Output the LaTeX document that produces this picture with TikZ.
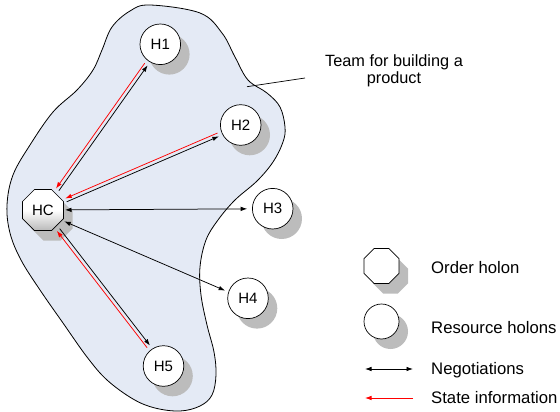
\documentclass[tikz,border=0pt]{standalone}
\usepackage{fontspec}
\setmainfont{Liberation Sans}
\usetikzlibrary{shapes.geometric,shadows,calc,arrows.meta}
\definecolor{teamfill}{RGB}{228,234,245}
\definecolor{shadowgray}{RGB}{188,188,188}
\begin{document}
\begin{tikzpicture}[x=1pt,y=-1pt,
  holonshadow/.style={drop shadow={shadow xshift=9pt,shadow yshift=-10pt,fill=shadowgray,opacity=1}},
  resource/.style={circle,draw=black,line width=0.7pt,fill=white,minimum size=40.6pt,
    inner sep=0pt,holonshadow,font=\fontsize{15}{17}\selectfont},
  order/.style={regular polygon,regular polygon sides=8,draw=black,line width=0.7pt,
    minimum size=44.4pt,inner sep=0pt,holonshadow,font=\fontsize{15}{17}\selectfont},
  tipshape/.tip={Latex[length=6.5pt,width=4.5pt]},
  negline/.style={draw=black,line width=0.75pt,-tipshape},
  negboth/.style={draw=black,line width=0.75pt,tipshape-tipshape},
  stateline/.style={draw=red,line width=0.75pt,-tipshape},
  legendtext/.style={anchor=base west,inner sep=0pt,font=\fontsize{16.7}{18}\selectfont},
]
\useasboundingbox (0,0) rectangle (560,412);

% team outline
\path[draw=black,line width=0.8pt,fill=teamfill] plot[smooth cycle,tension=0.6] coordinates {
  (150,5) (200,13) (222,33) (235,57) (248,80) (267,93) (280,107) (285,127)
  (283,142) (273,162) (257,181) (235,200) (218,220) (206,240) (200,267)
  (201,295) (207,325) (214,352) (216,375) (212,395) (200,406) (180,411)
  (155,408) (133,399) (107,380) (87,357) (63,323) (40,290) (21,260)
  (10,233) (7,205) (13,175) (30,145) (53,112) (77,90) (93,70) (102,50)
  (112,27) (130,11)};

% label of the team
\coordinate (teamtip) at (247,86.7);
\coordinate (teamend) at (305,78);
\draw[line width=0.7pt] (teamtip) -- (teamend);
\node[align=center,anchor=north,inner sep=0pt,font=\fontsize{16.3}{17}\selectfont]
  (teamlabel) at (394,54) {Team for building a\\product};

% holons
\node[order,top color=white,bottom color=gray!55,middle color=white] (HC) at (43,210) {HC};
\node[resource] (H1) at (160.3,44.3) {H1};
\node[resource] (H2) at (240.7,125) {H2};
\node[resource] (H3) at (272.7,208.7) {H3};
\node[resource] (H4) at (248,298.3) {H4};
\node[resource] (H5) at (163.5,366) {H5};

% negotiations (black) and state information (red)
\draw[negline,shorten <=25pt,shorten >=24.5pt] ($(HC)!1.8pt!-90:(H1)$) -- ($(H1)!1.8pt!90:(HC)$);
\draw[stateline,shorten <=24.5pt,shorten >=25pt] ($(H1)!1.8pt!-90:(HC)$) -- ($(HC)!1.8pt!90:(H1)$);

\draw[negline,shorten <=25pt,shorten >=24.5pt] ($(HC)!1.8pt!-90:(H2)$) -- ($(H2)!1.8pt!90:(HC)$);
\draw[stateline,shorten <=24.5pt,shorten >=25pt] ($(H2)!1.8pt!-90:(HC)$) -- ($(HC)!1.8pt!90:(H2)$);

\draw[negboth,shorten <=22pt,shorten >=25.5pt] (HC.center) -- (H3.center);
\draw[negboth,shorten <=24pt,shorten >=24pt] ($(HC)!2pt!-90:(H4)$) -- ($(H4)!2pt!90:(HC)$);

\draw[negline,shorten <=25pt,shorten >=24.5pt] ($(HC)!1.8pt!90:(H5)$) -- ($(H5)!1.8pt!-90:(HC)$);
\draw[stateline,shorten <=24.5pt,shorten >=25pt] ($(H5)!1.8pt!90:(HC)$) -- ($(HC)!1.8pt!-90:(H5)$);

% legend
\node[order,minimum size=38pt,fill=white] (keyorder) at (381.5,266) {};
\node[resource,minimum size=35pt] (keyresource) at (381.5,321.5) {};
\coordinate (negA) at (365,369);
\coordinate (negB) at (413,369);
\draw[negboth] (negA) -- (negB);
\coordinate (stateA) at (413,398);
\coordinate (stateB) at (365,398);
\draw[stateline] (stateA) -- (stateB);
\node[legendtext] (keyordertext) at (431,273) {Order holon};
\node[legendtext] (keyresourcetext) at (431,333) {Resource holons};
\node[legendtext] (keynegtext) at (431,374) {Negotiations};
\node[legendtext] (keystatetext) at (431,403.3) {State information};
\end{tikzpicture}
\end{document}
